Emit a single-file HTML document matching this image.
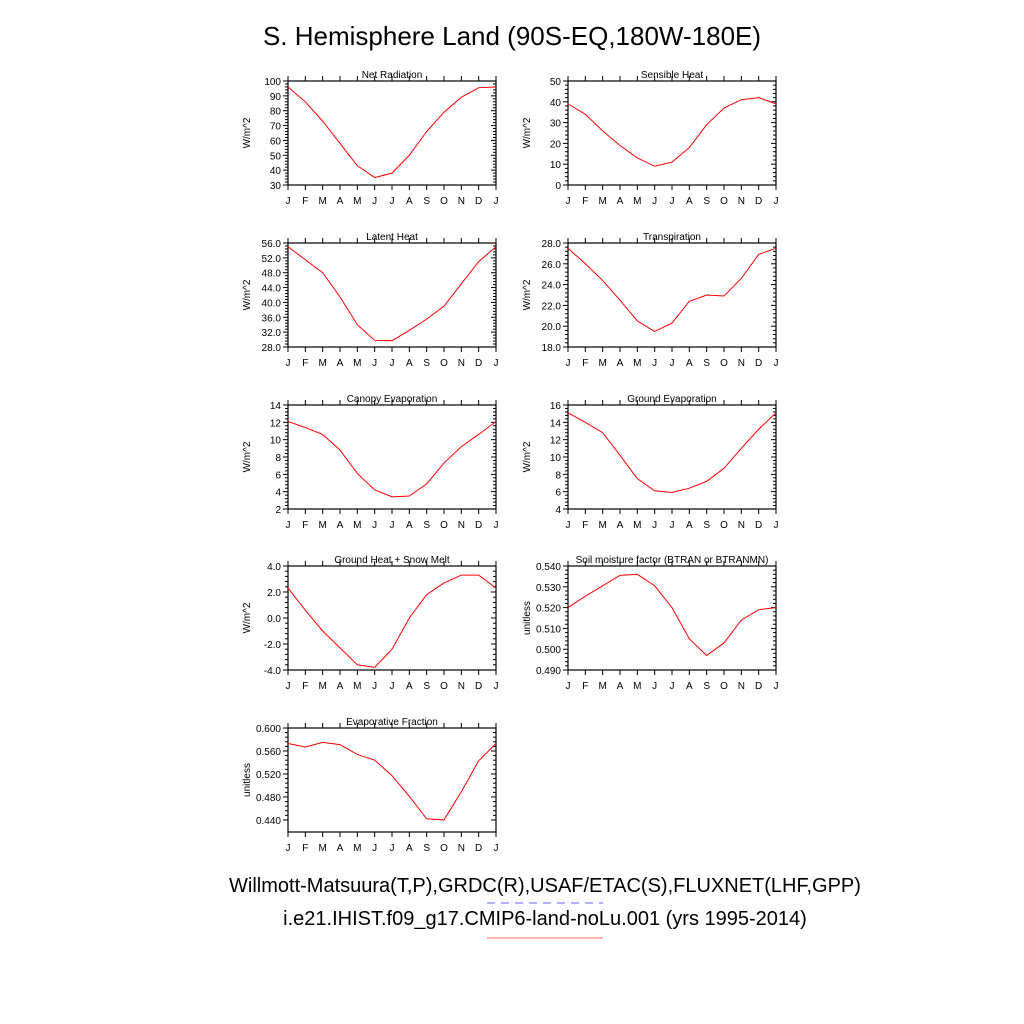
<!DOCTYPE html>
<html><head><meta charset="utf-8"><style>
body{margin:0;background:#fff;}
svg{display:block;font-family:"Liberation Sans",sans-serif;}
</style></head><body>
<svg id="chart" width="1024" height="1024">
<text x="512" y="45" font-size="26" text-anchor="middle">S. Hemisphere Land (90S-EQ,180W-180E)</text>
<text x="545" y="892" font-size="20" text-anchor="middle">Willmott-Matsuura(T,P),GRDC(R),USAF/ETAC(S),FLUXNET(LHF,GPP)</text>
<line x1="487" y1="903" x2="603" y2="903" stroke="#6666ff" stroke-dasharray="8,6"/>
<text x="545" y="925" font-size="20" text-anchor="middle">i.e21.IHIST.f09_g17.CMIP6-land-noLu.001 (yrs 1995-2014)</text>
<line x1="487" y1="938" x2="603" y2="938" stroke="#ff6666"/>
</svg>
<script>
const months=["J","F","M","A","M","J","J","A","S","O","N","D","J"];
const netRad=[96,86,73,58,43,35,38,50,66,79,89,95.5,96];
const sensible=[39,34,26,19,13,9,11,18,29,37,41,42,39];
const latent=[55,51.5,48,41.5,34,29.8,29.7,32.5,35.5,39,45,51,55];
const transp=[27.5,26,24.4,22.5,20.5,19.5,20.3,22.4,23,22.9,24.6,26.9,27.5];
const canopy=[12.1,11.4,10.6,8.8,6.1,4.2,3.4,3.5,4.9,7.3,9.2,10.6,12.1];
const groundEvap=[15.1,14,12.8,10.2,7.5,6.1,5.9,6.4,7.2,8.7,11,13.2,15.1];
const groundHeat=[2.3,0.6,-1,-2.3,-3.6,-3.8,-2.4,0,1.8,2.7,3.3,3.3,2.3];
const soil=[0.520,0.5255,0.5305,0.5355,0.536,0.5305,0.520,0.505,0.497,0.503,0.514,0.519,0.520];
const evapFrac=[0.573,0.567,0.575,0.571,0.554,0.544,0.517,0.481,0.442,0.440,0.489,0.543,0.573];
const ticksNet=[30,40,50,60,70,80,90,100];
const ticksSens=[0,10,20,30,40,50];
const ticksLat=[28,32,36,40,44,48,52,56];
const ticksTr=[18,20,22,24,26,28];
const ticksCan=[2,4,6,8,10,12,14];
const ticksGE=[4,6,8,10,12,14,16];
const ticksGH=[-4,-2,0,2,4];
const ticksSoil=[0.49,0.50,0.51,0.52,0.53,0.54];
const ticksEF=[0.44,0.48,0.52,0.56,0.60];
const NS="http://www.w3.org/2000/svg";
const svg=document.getElementById("chart");
function mk(tag,attrs,parent){const e=document.createElementNS(NS,tag);for(const k in attrs)e.setAttribute(k,attrs[k]);(parent||svg).appendChild(e);return e;}
function panel(key,title,x0,y0,data,ymin,ymax,ticks,dec,ylab){
  const w=208,h=104;
  const g=mk("g",{});
  
  
  const xs=i=>x0+i*w/12, ys=v=>y0+h-(v-ymin)/(ymax-ymin)*h;
  const f=mk("rect",{x:x0,y:y0,width:w,height:h,fill:"none",stroke:"#000","stroke-width":1.2},g);
  
  
  const t=mk("text",{x:x0+w/2,y:y0-3,"font-size":10,"text-anchor":"middle"},g);t.textContent=title;
  
  
  months.forEach((m,i)=>{
    const x=xs(i);
    mk("line",{x1:x,y1:y0+h,x2:x,y2:y0+h+5,stroke:"#000"},g);
    mk("line",{x1:x,y1:y0,x2:x,y2:y0-5,stroke:"#000"},g);
    const l=mk("text",{x:x,y:y0+h+19,"font-size":10,"text-anchor":"middle"},g);l.textContent=m;
    
    
  });
  ticks.forEach((v,i)=>{
    const y=ys(v);
    mk("line",{x1:x0,y1:y,x2:x0-5,y2:y,stroke:"#000"},g);
    mk("line",{x1:x0+w,y1:y,x2:x0+w-5,y2:y,stroke:"#000"},g);
    const l=mk("text",{x:x0-7,y:y+4,"font-size":10,"text-anchor":"end"},g);l.textContent=v.toFixed(dec);
    
    
    if(i<ticks.length-1){const st=(ticks[i+1]-v)/5;for(let k=1;k<5;k++){const yy=ys(v+k*st);
      mk("line",{x1:x0,y1:yy,x2:x0-3,y2:yy,stroke:"#000"},g);mk("line",{x1:x0+w,y1:yy,x2:x0+w-3,y2:yy,stroke:"#000"},g);}}
  });
  const yl=mk("text",{x:0,y:0,"font-size":10,"text-anchor":"middle",transform:`translate(${x0-38},${y0+h/2}) rotate(-90)`},g);yl.textContent=ylab;
  
  
  const p=mk("polyline",{points:data.map((v,i)=>xs(i)+","+ys(v)).join(" "),fill:"none",stroke:"#ff0000","stroke-width":1},g);
  
  
}
panel("net-radiation","Net Radiation",288,81,netRad,30,100,ticksNet,0,"W/m^2");
panel("sensible-heat","Sensible Heat",568,81,sensible,0,50,ticksSens,0,"W/m^2");
panel("latent-heat","Latent Heat",288,243,latent,28,56,ticksLat,1,"W/m^2");
panel("transpiration","Transpiration",568,243,transp,18,28,ticksTr,1,"W/m^2");
panel("canopy-evaporation","Canopy Evaporation",288,405,canopy,2,14,ticksCan,0,"W/m^2");
panel("ground-evaporation","Ground Evaporation",568,405,groundEvap,4,16,ticksGE,0,"W/m^2");
panel("ground-heat","Ground Heat + Snow Melt",288,566,groundHeat,-4,4,ticksGH,1,"W/m^2");
panel("soil-moisture","Soil moisture factor (BTRAN or BTRANMN)",568,566,soil,0.49,0.54,ticksSoil,3,"unitless");
panel("evaporative-fraction","Evaporative Fraction",288,728,evapFrac,0.419,0.6,ticksEF,3,"unitless");
</script>
</body></html>
